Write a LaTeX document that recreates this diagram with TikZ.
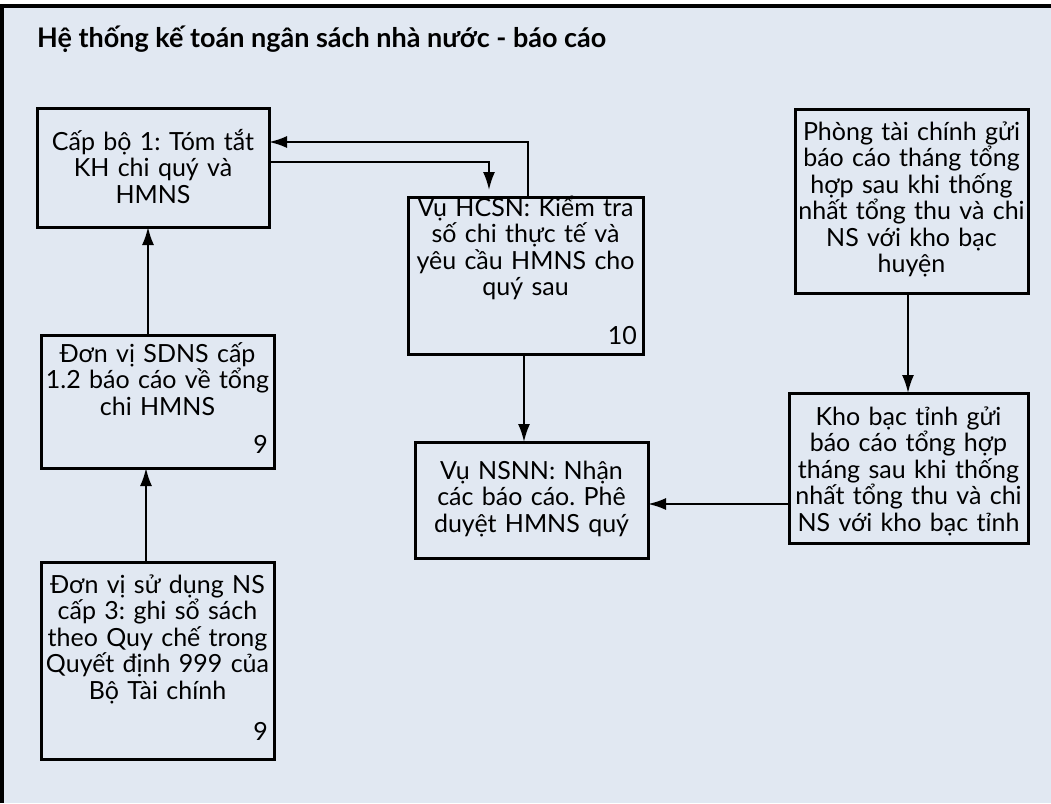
\documentclass[tikz,border=0pt]{standalone}
\usepackage{fontspec}
\setmainfont{Lato}
\usetikzlibrary{arrows.meta}
\definecolor{bgc}{RGB}{225,232,242}
\tikzset{
  box/.style={draw=black, line width=3pt, inner sep=0pt, outer sep=0pt, anchor=north west},
  txt/.style={text width=250pt, align=center, inner sep=0pt, anchor=base,
    font=\fontsize{25}{26.5}\selectfont},
  num/.style={inner sep=0pt, anchor=base east, font=\fontsize{25}{26}\selectfont},
  conn/.style={line width=2pt, -{Latex[length=18pt,width=12pt]}},
}
\frenchspacing
\begin{document}
\begin{tikzpicture}[x=1pt,y=-1pt]
\useasboundingbox (0,0) rectangle (1051,803);
\fill[white] (0,0) rectangle (1051,803);
\fill[bgc] (2,5.5) rectangle (1051,803);
\draw[line width=4pt] (2,803) -- (2,5.5) -- (1051,5.5);

\node[anchor=base west, inner sep=0pt, font=\fontsize{27}{30}\selectfont\bfseries] (title) at (37,47) {Hệ thống kế toán ngân sách nhà nước - báo cáo};

% boxes
\node[box, minimum width=232pt, minimum height=119pt] (A) at (37,108) {};
\node[box, minimum width=235pt, minimum height=157pt] (H) at (408,197) {};
\node[box, minimum width=233pt, minimum height=184pt] (P) at (795,109) {};
\node[box, minimum width=233pt, minimum height=133pt] (S) at (41,335) {};
\node[box, minimum width=233pt, minimum height=116pt] (N) at (415,442) {};
\node[box, minimum width=239pt, minimum height=150pt] (K) at (789,393) {};
\node[box, minimum width=233pt, minimum height=197pt] (L) at (41,562) {};

% texts
\node[txt] (tA) at (153,150) {Cấp bộ 1: Tóm tắt\\KH chi quý và\\HMNS};
\node[txt] (tH) at (525.5,216) {Vụ HCSN: Kiểm tra\\số chi thực tế và\\yêu cầu HMNS cho\\quý sau};
\node[num] (nH) at (637,344) {10};
\node[txt] (tP) at (911.5,140) {Phòng tài chính gửi\\báo cáo tháng tổng\\hợp sau khi thống\\nhất tổng thu và chi\\NS với kho bạc\\huyện};
\node[txt] (tS) at (157.5,362) {Đơn vị SDNS cấp\\1.2 báo cáo về tổng\\chi HMNS};
\node[num] (nS) at (268,453) {9};
\node[txt] (tN) at (531.5,479) {Vụ NSNN: Nhận\\các báo cáo. Phê\\duyệt HMNS quý};
\node[txt] (tK) at (908.5,425) {Kho bạc tỉnh gửi\\báo cáo tổng hợp\\tháng sau khi thống\\nhất tổng thu và chi\\NS với kho bạc tỉnh};
\node[txt] (tL) at (157.5,593) {Đơn vị sử dụng NS\\cấp 3: ghi sổ sách\\theo Quy chế trong\\Quyết định 999 của\\Bộ Tài chính};
\node[num] (nL) at (268,740) {9};

% connectors
\draw[conn] ([xshift=-9.5pt]S.north) -- ([xshift=-9.5pt]S.north |- A.south);
\draw[conn] ([xshift=-11.5pt]L.north) -- ([xshift=-11.5pt]L.north |- S.south);
\draw[conn, shorten >=7pt] ([yshift=5.5pt]A.east) -| ([xshift=-36.5pt]H.north);
\draw[conn] ([xshift=2.5pt]H.north) |- ([yshift=25.5pt]A.east);
\draw[conn] ([xshift=-1.5pt]H.south) -- ([xshift=-1.5pt]H.south |- N.north);
\draw[conn] ([xshift=-3.5pt]P.south) -- ([xshift=-3.5pt]P.south |- K.north);
\draw[conn] ([yshift=-36pt]K.west) -- ([yshift=-36pt]K.west -| N.east);
\end{tikzpicture}
\end{document}
